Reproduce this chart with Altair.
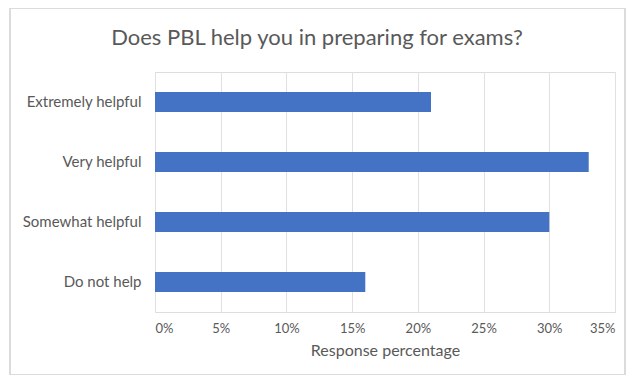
import altair as alt
import pandas as pd

categories = ["Extremely helpful", "Very helpful", "Somewhat helpful", "Do not help"]
values = [0.21, 0.33, 0.30, 0.16]
x_ticks = [0, 0.05, 0.10, 0.15, 0.20, 0.25, 0.30, 0.35]

df = pd.DataFrame({"category": categories, "value": values})

FONT = "Lato"
GRAY = "#595959"

bars = alt.Chart(df).mark_bar(color="#4472C4").encode(
    x=alt.X("value:Q",
            scale=alt.Scale(domain=[0, 0.35], nice=False),
            axis=alt.Axis(values=x_ticks, format=".0%", title="Response percentage",
                          grid=True, gridColor="#e0e0e0", domain=False, ticks=False,
                          labelPadding=10, labelFontSize=13, labelColor=GRAY,
                          labelFont=FONT, titleFont=FONT, titleFontSize=16,
                          titleColor=GRAY, titleFontWeight="normal", titlePadding=7)),
    y=alt.Y("category:N", sort=categories,
            scale=alt.Scale(paddingInner=0.667, paddingOuter=0.333),
            axis=alt.Axis(title=None, grid=False, domain=False, ticks=False,
                          labelPadding=14, labelFontSize=15, labelColor=GRAY,
                          labelFont=FONT)),
)

frame = alt.Chart(df).mark_rect(fill=None, stroke="#d9d9d9", strokeWidth=1).encode(
    x=alt.value(-145), x2=alt.value(470), y=alt.value(-64), y2=alt.value(303)
)

chart = alt.layer(frame, bars).properties(
    width=460, height=240,
    padding={"left": 147, "top": 64, "right": 11, "bottom": 63},
    autosize=alt.AutoSizeParams(type="none"),
    title=alt.Title("Does PBL help you in preparing for exams?", font=FONT, fontSize=22,
                    fontWeight="normal", color=GRAY, anchor="middle", dx=-68, offset=-42),
).configure_view(stroke=None).configure(background="white")

chart.save("out.html", embed_options={"renderer": "svg", "actions": False})
